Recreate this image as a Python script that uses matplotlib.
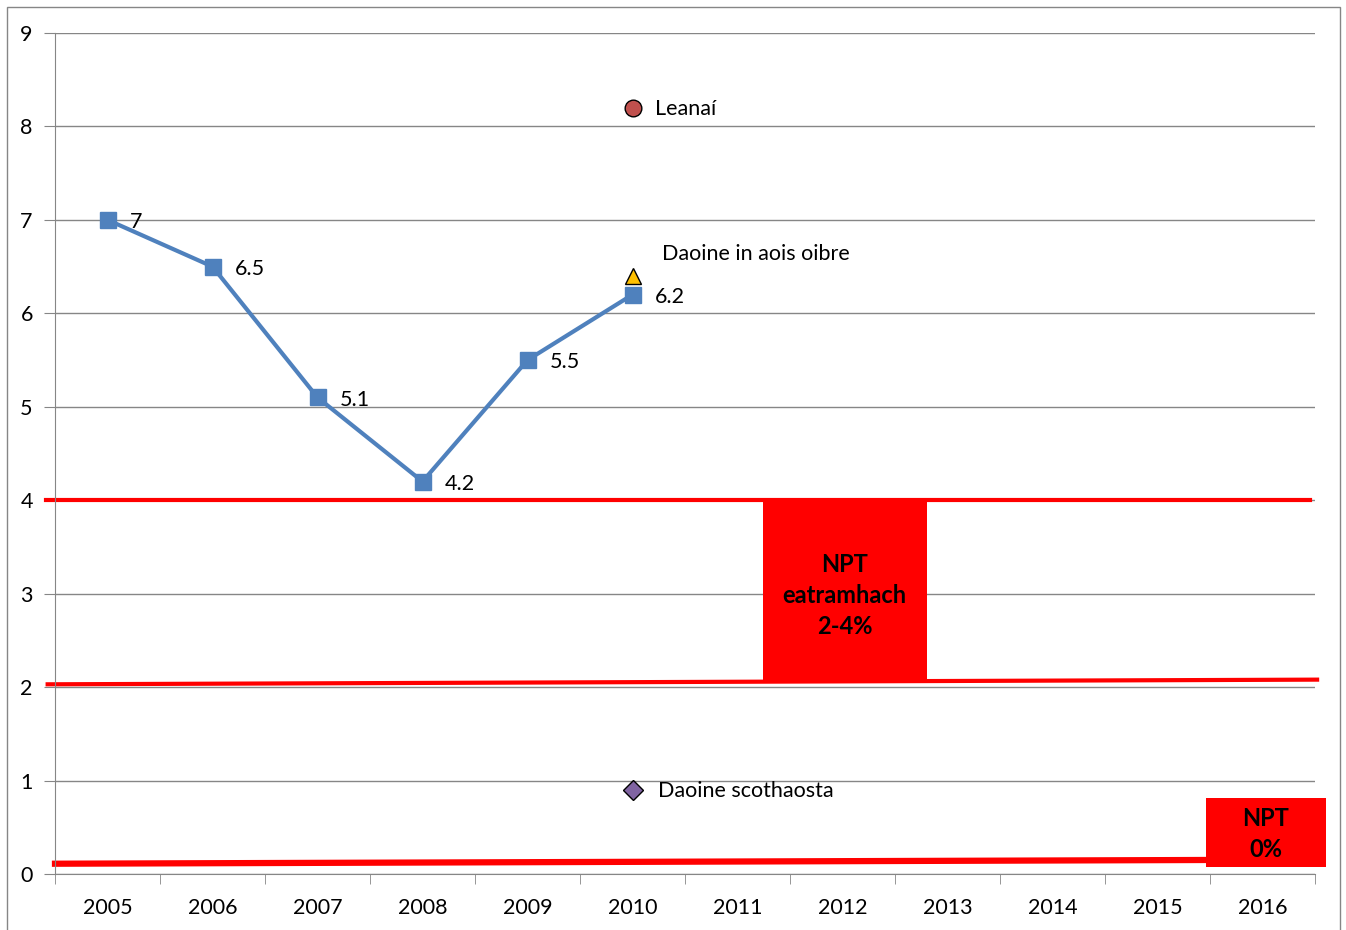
from matplotlib import pyplot as plt
from matplotlib.patches import Rectangle
import numpy as np

# data
years = ["2005", "2006", "2007", "2008", "2009", "2010", "2011", "2012", "2013", "2014", "2015", "2016"]
rate_years = ["2005", "2006", "2007", "2008", "2009", "2010"]
rate_values = [7, 6.5, 5.1, 4.2, 5.5, 6.2]
children_value = 8.2
working_value = 6.4
elderly_value = 0.9
group_year = "2010"

# target bands (NPT)
band_mid = [2.03, 4.0]      # 2-4% band edges
band_zero = 0.12

plt.rcParams['font.family'] = ['Lato', 'DejaVu Sans']

fig = plt.figure(figsize=(13.46, 9.30), dpi=100)
ax = fig.add_axes([55/1346, 1-874/930, (1315-55)/1346, (874-33)/930])

idx = {y: i for i, y in enumerate(years)}
xr = [idx[y] for y in rate_years]
xg = idx[group_year]

# red target lines
ax.plot([-0.586, 11.45], [band_mid[1], band_mid[1]], color='#FF0000', lw=3, clip_on=False, zorder=2)
ax.plot([-0.57, 11.52], [band_mid[0], band_mid[0] + 0.05], color='#FF0000', lw=3, clip_on=False, zorder=2)
ax.plot([-0.5, 10.46], [band_zero - 0.01, band_zero + 0.03], color='#FF0000', lw=4.5, clip_on=False, zorder=2)

# red boxes
ax.add_patch(Rectangle((6.24, 2.05), 1.56, 1.93, facecolor='#FF0000', edgecolor='none', zorder=3))
ax.text(7.02, 2.98, "NPT\neatramhach\n2-4%", ha='center', va='center', fontsize=17,
        fontweight='bold', linespacing=1.42, zorder=4)
ax.add_patch(Rectangle((10.46, 0.08), 1.14, 0.73, facecolor='#FF0000', edgecolor='none',
                       zorder=3, clip_on=False))
ax.text(11.03, 0.43, "NPT\n0%", ha='center', va='center', fontsize=17,
        fontweight='bold', linespacing=1.42, zorder=4)

# main series
ax.plot(xr, rate_values, color='#4F81BD', lw=3, marker='s', markersize=12, zorder=5)
for x, v in zip(xr, rate_values):
    ax.annotate(f"{v:g}", (x, v), xytext=(16, -1.5), textcoords='offset points',
                va='center', ha='left', fontsize=15.5)

# group markers
ax.plot(xg, children_value, marker='o', color='#C0504D', markeredgecolor='black',
        markersize=12, mew=1, zorder=6)
ax.annotate("Leanaí", (xg, children_value), xytext=(16, -1), textcoords='offset points',
            va='center', ha='left', fontsize=15.5)
ax.plot(xg, working_value, marker='^', color='#FFC000', markeredgecolor='black',
        markersize=12, mew=1, zorder=6)
ax.annotate("Daoine in aois oibre", (xg, working_value), xytext=(21, 16), textcoords='offset points',
            va='center', ha='left', fontsize=15.5)
ax.plot(xg, elderly_value, marker='D', color='#8064A2', markeredgecolor='black',
        markersize=10, mew=1, zorder=6)
ax.annotate("Daoine scothaosta", (xg, elderly_value), xytext=(18, -1), textcoords='offset points',
            va='center', ha='left', fontsize=15.5)

# axes styling
ax.set_xlim(-0.5, 11.5)
ax.set_ylim(0, 9)
ax.set_yticks(range(0, 10))
ax.set_xticks(range(len(years)))
ax.set_xticklabels(years)
ax.set_xticks(np.arange(-0.5, 12, 1), minor=True)
ax.tick_params(axis='x', which='major', length=0, pad=17, labelsize=15.5)
ax.tick_params(axis='x', which='minor', length=7, color='#868686', direction='out')
ax.tick_params(axis='y', length=8, color='#868686', pad=8, labelsize=15.5)
ax.grid(axis='y', color='#868686', lw=1, zorder=0)
ax.set_axisbelow(True)
for s in ['top', 'right']:
    ax.spines[s].set_visible(False)
for s in ['left', 'bottom']:
    ax.spines[s].set_color('#868686')

# outer frame
fig.patches.append(Rectangle((7/1346, -0.01), (1340-7)/1346, 1.01 - 7/930, transform=fig.transFigure,
                             fill=False, edgecolor='#868686', lw=1))

fig.savefig("out.png", dpi=100)
